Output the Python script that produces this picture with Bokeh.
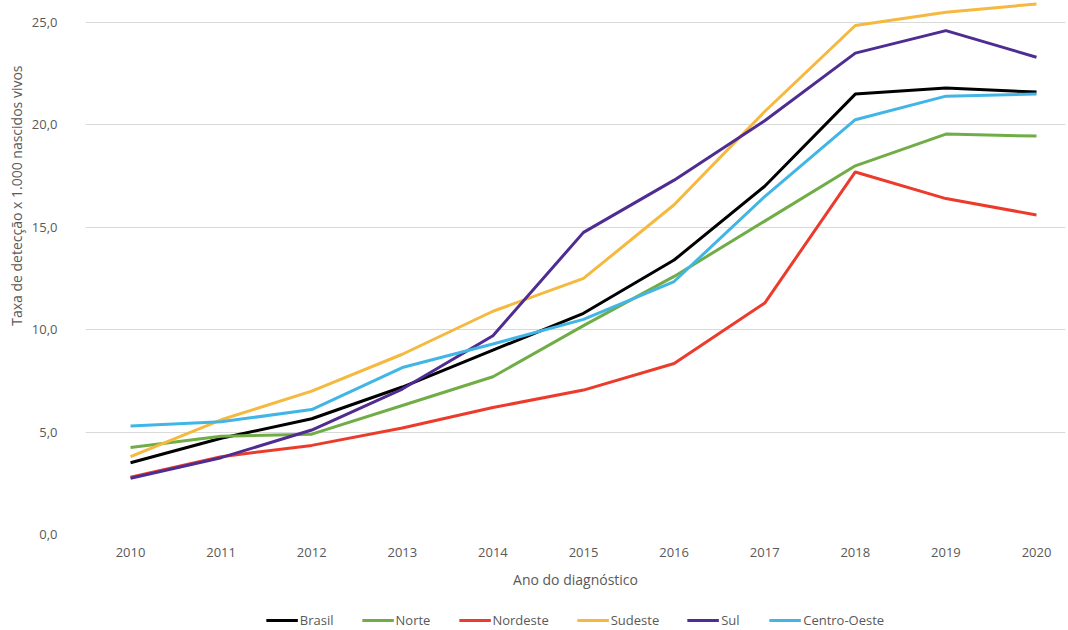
from bokeh.plotting import figure
from bokeh.layouts import column
from bokeh.models import Legend, LegendItem, CustomJSTickFormatter, FixedTicker, Title, Range1d
from bokeh.embed import file_html
from bokeh.resources import INLINE

years = [2010, 2011, 2012, 2013, 2014, 2015, 2016, 2017, 2018, 2019, 2020]
brasil = [3.5, 4.7, 5.65, 7.2, 9.0, 10.8, 13.4, 17.0, 21.5, 21.8, 21.6]
norte = [4.25, 4.8, 4.9, 6.3, 7.7, 10.2, 12.6, 15.3, 18.0, 19.55, 19.45]
nordeste = [2.8, 3.8, 4.35, 5.2, 6.2, 7.05, 8.35, 11.3, 17.7, 16.4, 15.6]
sudeste = [3.8, 5.6, 7.0, 8.8, 10.9, 12.5, 16.1, 20.65, 24.85, 25.5, 25.9]
sul = [2.75, 3.75, 5.1, 7.1, 9.7, 14.75, 17.3, 20.2, 23.5, 24.6, 23.3]
centro_oeste = [5.3, 5.5, 6.1, 8.15, 9.3, 10.5, 12.35, 16.5, 20.25, 21.4, 21.5]

series = [
    ("Brasil", brasil, "#000000"),
    ("Norte", norte, "#70AD47"),
    ("Nordeste", nordeste, "#EC3B2B"),
    ("Sudeste", sudeste, "#F4B93E"),
    ("Sul", sul, "#4F2C91"),
    ("Centro-Oeste", centro_oeste, "#41B6E6"),
]

y_ticks = [0, 5, 10, 15, 20, 25]
FONT = "Open Sans"
GRAY = "#595959"

p = figure(frame_width=980, frame_height=534, output_backend="svg", toolbar_location=None,
           x_range=(2009.503, 2020.32), y_range=(0, 26.07),
           min_border_left=85, min_border_right=3, min_border_top=0, min_border_bottom=76)
p.outline_line_color = None
p.background_fill_color = "white"
p.border_fill_color = "white"

for name, vals, col in series:
    p.line(years, vals, line_color=col, line_width=3)

p.xgrid.grid_line_color = None
p.ygrid.grid_line_color = "#D9D9D9"
p.ygrid.grid_line_width = 1
p.ygrid.ticker = FixedTicker(ticks=y_ticks)

p.xaxis.ticker = FixedTicker(ticks=years)
p.yaxis.ticker = FixedTicker(ticks=y_ticks)
p.yaxis.formatter = CustomJSTickFormatter(code="return tick.toFixed(1).replace('.', ',');")
for ax in (p.xaxis[0], p.yaxis[0]):
    ax.axis_line_color = None
    ax.major_tick_line_color = None
    ax.minor_tick_line_color = None
    ax.major_label_text_font = FONT
    ax.major_label_text_font_size = "13px"
    ax.major_label_text_color = GRAY
p.yaxis.major_label_standoff = 22
p.xaxis.major_label_standoff = 7
p.xaxis.axis_label = "Ano do diagnóstico"
p.xaxis.axis_label_text_font = FONT
p.xaxis.axis_label_text_font_size = "14px"
p.xaxis.axis_label_text_font_style = "normal"
p.xaxis.axis_label_text_color = GRAY
p.xaxis.axis_label_standoff = 10

ytitle = Title(text="Taxa de detecção x 1.000 nascidos vivos", align="right", offset=65,
               text_font=FONT, text_font_size="14px", text_font_style="normal",
               text_color=GRAY, standoff=6)
p.add_layout(ytitle, "left")

# Legend strip: a second figure whose lines lie outside its visible range
q = figure(width=1068, height=20, output_backend="svg", toolbar_location=None,
           x_range=p.x_range, y_range=Range1d(-2, -1),
           min_border_left=64, min_border_right=0, min_border_top=0, min_border_bottom=0)
q.outline_line_color = None
q.axis.visible = False
q.grid.grid_line_color = None
items = []
for name, vals, col in series:
    r = q.line(years, vals, line_color=col, line_width=3)
    items.append(LegendItem(label=name, renderers=[r]))
legend = Legend(items=items, orientation="horizontal", location="center",
                label_text_font=FONT, label_text_font_size="13px", label_text_color=GRAY,
                glyph_width=32, glyph_height=16, label_height=16, label_standoff=2,
                spacing=28, padding=0, margin=0,
                border_line_color=None, background_fill_alpha=0)
q.add_layout(legend)

layout = column(p, q, spacing=0)
open("out.html", "w").write(file_html(layout, INLINE))
